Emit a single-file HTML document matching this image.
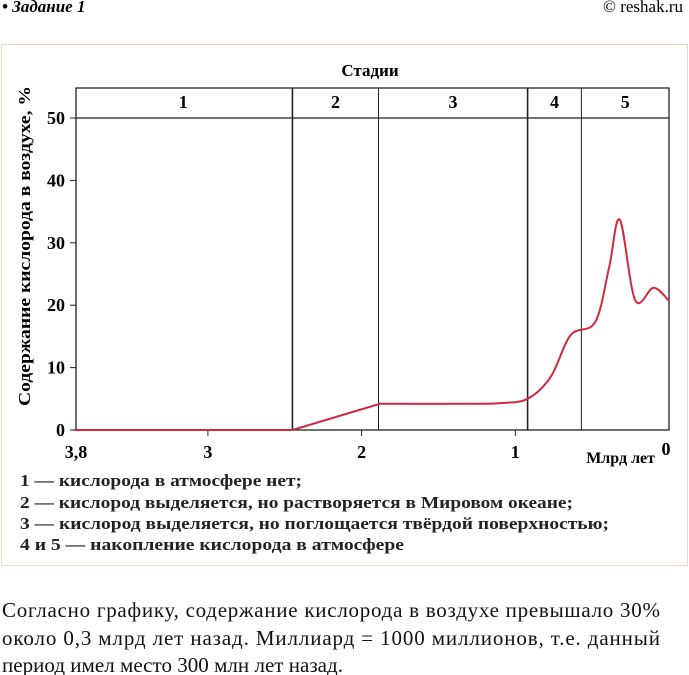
<!DOCTYPE html>
<html><head><meta charset="utf-8"><style>
body{margin:0;width:689px;height:675px;background:#fff;font-family:"Liberation Serif",serif;overflow:hidden;position:relative}
.t{position:absolute;white-space:nowrap}
</style></head><body>
<div class="t" style="left:2px;top:-3px;font-size:17px;font-weight:bold;font-style:italic">• Задание 1</div>
<div class="t" style="right:6px;top:-3px;font-size:17px">© reshak.ru</div>
<div style="position:absolute;left:1px;top:44px;width:685px;height:520px;border:1px solid #e6dcc4"></div>
<svg width="689" height="675" style="position:absolute;left:0;top:0" font-family="Liberation Serif, serif">
<g id="g"></g>
<g font-size="17" font-weight="bold" fill="#222">
<text x="20" y="486" textLength="282" lengthAdjust="spacingAndGlyphs">1 — кислорода в атмосфере нет;</text>
<text x="20" y="508" textLength="553" lengthAdjust="spacingAndGlyphs">2 — кислород выделяется, но растворяется в Мировом океане;</text>
<text x="20" y="529" textLength="589" lengthAdjust="spacingAndGlyphs">3 — кислород выделяется, но поглощается твёрдой поверхностью;</text>
<text x="20" y="550" textLength="384" lengthAdjust="spacingAndGlyphs">4 и 5 — накопление кислорода в атмосфере</text>
</g>
<g font-size="21" fill="#111">
<text x="2" y="617" textLength="658" lengthAdjust="spacing">Согласно графику, содержание кислорода в воздухе превышало 30%</text>
<text x="2" y="645" textLength="658" lengthAdjust="spacing">около 0,3 млрд лет назад. Миллиард = 1000 миллионов, т.е. данный</text>
<text x="2" y="672" textLength="341" lengthAdjust="spacingAndGlyphs">период имел место 300 млн лет назад.</text>
</g>
</svg>
<script>
const xTicks=[3,2,1,0];
const yTicks=[0,10,20,30,40,50];
const stageBounds=[3.87,2.45,1.89,0.92,0.57,0];
const stageLabels=["1","2","3","4","5"];
const ageGyr=[3.87,2.45,1.88,1.3,1.1,0.92,0.77,0.64,0.48,0.39,0.32,0.22,0.10,0];
const oxygen=[0,0,4.2,4.2,4.3,5.0,8.5,15.2,17.3,26,33.7,20.8,22.8,20.7];
const NS="http://www.w3.org/2000/svg",g=document.getElementById('g');
const X=v=>669-v*153.7, Y=v=>430-v*6.24;
function mk(t,a,txt){const e=document.createElementNS(NS,t);for(const k in a)e.setAttribute(k,a[k]);if(txt!=null)e.textContent=txt;g.appendChild(e);return e;}
let e;
e=mk('rect',{x:76,y:88,width:593,height:342,fill:'none',stroke:'#222','stroke-width':1.3});

e=mk('line',{x1:76,x2:669,y1:Y(50),y2:Y(50),stroke:'#222','stroke-width':1.2});

for(let i=1;i<stageBounds.length-1;i++){
 e=mk('line',{x1:X(stageBounds[i]),x2:X(stageBounds[i]),y1:88,y2:430,stroke:'#222','stroke-width':(i==1||i==3)?1.6:1});
 
}
for(let i=0;i<stageLabels.length;i++){
 const cx=(Math.min(669,X(stageBounds[i]))+X(stageBounds[i+1]))/2;
 e=mk('text',{x:cx,y:108,'font-size':18,'font-weight':'bold','text-anchor':'middle'},stageLabels[i]);
 
}
e=mk('text',{x:370,y:76,'font-size':17,'font-weight':'bold','text-anchor':'middle'},'Стадии');

yTicks.forEach(v=>{
 e=mk('text',{x:65,y:Y(v)+6,'font-size':18,'font-weight':'bold','text-anchor':'end'},String(v));
 
 e=mk('line',{x1:70,x2:76,y1:Y(v),y2:Y(v),stroke:'#222'});
 
});
xTicks.forEach(v=>{
 if(v>0){e=mk('line',{x1:X(v),x2:X(v),y1:430,y2:436,stroke:'#222'});
 }
 e=mk('text',{x:X(v)-(v==0?3:0),y:v==0?455:458,'font-size':18,'font-weight':'bold','text-anchor':'middle'},String(v));
 
});
e=mk('text',{x:76,y:458,'font-size':18,'font-weight':'bold','text-anchor':'middle'},'3,8');

e=mk('text',{x:655,y:463,'font-size':16,'font-weight':'bold','text-anchor':'end'},'Млрд лет');

e=mk('text',{x:0,y:0,'font-size':17,'font-weight':'bold','text-anchor':'middle',textLength:320,lengthAdjust:'spacingAndGlyphs',transform:'translate(30,246) rotate(-90)'},'Содержание кислорода в воздухе, %');

const P=ageGyr.map((a,i)=>[X(a),Y(oxygen[i])]);
let d=`M${P[0][0]},${P[0][1]} L${P[1][0]},${P[1][1]} L${P[2][0]},${P[2][1]}`;
for(let i=2;i<P.length-1;i++){
 const p0=P[Math.max(i-1,2)],p1=P[i],p2=P[i+1],p3=P[Math.min(i+2,P.length-1)];
 d+=` C${p1[0]+(p2[0]-p0[0])/6},${p1[1]+(p2[1]-p0[1])/6} ${p2[0]-(p3[0]-p1[0])/6},${p2[1]-(p3[1]-p1[1])/6} ${p2[0]},${p2[1]}`;
}
e=mk('path',{d:d,fill:'none',stroke:'#d02a40','stroke-width':2});

</script>
</body></html>
